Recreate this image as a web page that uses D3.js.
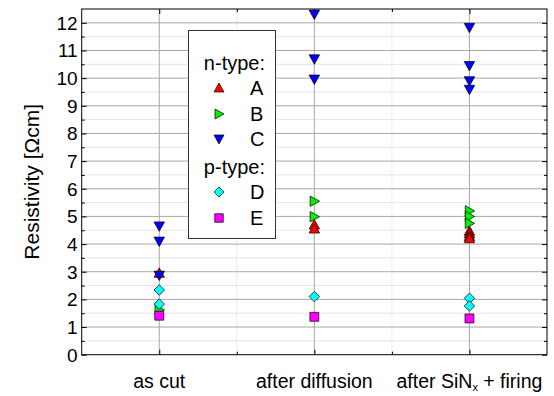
<!DOCTYPE html>
<html>
<head>
<meta charset="utf-8">
<script src="https://cdn.jsdelivr.net/npm/d3@7"></script>
<style>
  body { margin: 0; background: #fff; }
  svg text { font-family: "Liberation Sans", Arial, sans-serif; fill: #000; }
</style>
</head>
<body>
<div id="chart"></div>
<script>
"use strict";

// stages on the x axis
const categories = ["as cut", "after diffusion", "after SiNx + firing"];

// resistivity values per sample, one list per stage
const sampleA = [[2.95], [4.70, 4.55], [4.47, 4.38, 4.28, 4.20]];
const sampleB = [[1.62], [5.55, 4.99], [5.20, 5.00, 4.75]];
const sampleC = [[4.65, 4.10, 2.87], [12.31, 10.69, 9.96], [11.83, 10.45, 9.90, 9.59]];
const sampleD = [[2.34, 1.83], [2.10], [2.04, 1.76]];
const sampleE = [[1.41], [1.37], [1.31]];

const yTicks = [0, 1, 2, 3, 4, 5, 6, 7, 8, 9, 10, 11, 12];

const series = [
  { name: "A", shape: "up", color: "#ff0000", data: sampleA },
  { name: "B", shape: "right", color: "#00f000", data: sampleB },
  { name: "C", shape: "down", color: "#0000ff", data: sampleC },
  { name: "D", shape: "diamond", color: "#00ffff", data: sampleD },
  { name: "E", shape: "square", color: "#ff00ff", data: sampleE }
];

const W = 554, H = 396;
const margin = { left: 81.7, right: 7, top: 9, bottom: 41.3 };

const svg = d3.select("#chart").append("svg")
  .attr("width", W).attr("height", H);

const x = d3.scaleLinear().domain([0.5, 3.5]).range([margin.left, W - margin.right]);
const y = d3.scaleLinear().domain([0, 12.5]).range([H - margin.bottom, margin.top]);

const x0 = x.range()[0], x1 = x.range()[1];
const y0 = y.range()[0], y1 = y.range()[1];

// minor grid (dotted)
const grid = svg.append("g");
d3.range(0.5, 12.5, 1).forEach(v => {
  grid.append("line")
    .attr("x1", x0).attr("x2", x1).attr("y1", y(v)).attr("y2", y(v))
    .attr("stroke", "#c8c8c8").attr("stroke-width", 1).attr("stroke-dasharray", "1,1");
});
[1.5, 2.5].forEach(v => {
  grid.append("line")
    .attr("x1", x(v)).attr("x2", x(v)).attr("y1", y0).attr("y2", y1)
    .attr("stroke", "#d8d8d8").attr("stroke-width", 1).attr("stroke-dasharray", "1,1");
});
// major grid
yTicks.slice(1).forEach(v => {
  grid.append("line")
    .attr("x1", x0).attr("x2", x1).attr("y1", y(v)).attr("y2", y(v))
    .attr("stroke", "#a8a8a8").attr("stroke-width", 1);
});
categories.forEach((c, i) => {
  grid.append("line")
    .attr("x1", x(i + 1)).attr("x2", x(i + 1)).attr("y1", y0).attr("y2", y1)
    .attr("stroke", "#a8a8a8").attr("stroke-width", 1);
});

// axes, ticks pointing inward on all four sides
const yMinor = d3.range(0.5, 12.5, 1);
const xTickVals = [1, 2, 3];
const xMinor = [1.5, 2.5];

svg.append("g").attr("transform", `translate(${x0},0)`)
  .call(d3.axisRight(y).tickValues(yTicks).tickSize(5).tickFormat(""));
svg.append("g").attr("transform", `translate(${x0},0)`)
  .call(d3.axisRight(y).tickValues(yMinor).tickSize(3).tickFormat(""));
svg.append("g").attr("transform", `translate(${x1},0)`)
  .call(d3.axisLeft(y).tickValues(yTicks).tickSize(5).tickFormat(""));
svg.append("g").attr("transform", `translate(${x1},0)`)
  .call(d3.axisLeft(y).tickValues(yMinor).tickSize(3).tickFormat(""));
svg.append("g").attr("transform", `translate(0,${y0})`)
  .call(d3.axisTop(x).tickValues(xTickVals).tickSize(5).tickFormat(""));
svg.append("g").attr("transform", `translate(0,${y0})`)
  .call(d3.axisTop(x).tickValues(xMinor).tickSize(3).tickFormat(""));
svg.append("g").attr("transform", `translate(0,${y1})`)
  .call(d3.axisBottom(x).tickValues(xTickVals).tickSize(5).tickFormat(""));
svg.append("g").attr("transform", `translate(0,${y1})`)
  .call(d3.axisBottom(x).tickValues(xMinor).tickSize(3).tickFormat(""));
svg.selectAll(".domain").remove();
svg.selectAll(".tick line").attr("stroke", "#000").attr("stroke-width", 1);

// tick labels
svg.append("g").selectAll("text").data(yTicks).join("text")
  .attr("x", x0 - 4).attr("y", d => y(d)).attr("dy", "0.36em")
  .attr("text-anchor", "end").style("font-size", "19px")
  .text(d => d);

const xl = svg.append("g").selectAll("text").data(categories).join("text")
  .attr("x", (d, i) => x(i + 1)).attr("y", y0 + 33)
  .attr("text-anchor", "middle").style("font-size", "19.5px");
xl.each(function (d) {
  const t = d3.select(this);
  if (d.indexOf("SiNx") >= 0) {
    t.append("tspan").text("after SiN");
    t.append("tspan").text("x").attr("dy", 3.5).style("font-size", "11px");
    t.append("tspan").text(" + firing").attr("dy", -3.5);
  } else {
    t.text(d);
  }
});

svg.append("text")
  .attr("transform", `translate(39,${(y0 + y1) / 2}) rotate(-90)`)
  .attr("text-anchor", "middle").style("font-size", "21px")
  .text("Resistivity [Ωcm]");

// frame
svg.append("rect")
  .attr("x", x0).attr("y", y1).attr("width", x1 - x0).attr("height", y0 - y1)
  .attr("fill", "none").attr("stroke", "#000").attr("stroke-width", 1);

// marker shapes
function markerPath(shape, s) {
  const h = s / 2;
  switch (shape) {
    case "up": return `M0,${-h}L${h},${h * 0.8}L${-h},${h * 0.8}Z`;
    case "down": return `M0,${h}L${h},${-h * 0.8}L${-h},${-h * 0.8}Z`;
    case "right": return `M${h},0L${-h * 0.8},${h}L${-h * 0.8},${-h}Z`;
    case "diamond": return `M0,${-h}L${h},0L0,${h}L${-h},0Z`;
    default: return `M${-h * 0.85},${-h * 0.85}H${h * 0.85}V${h * 0.85}H${-h * 0.85}Z`;
  }
}

const pts = svg.append("g");
series.forEach(s => {
  s.data.forEach((vals, i) => {
    vals.forEach(v => {
      pts.append("path")
        .attr("d", markerPath(s.shape, 10.5))
        .attr("transform", `translate(${x(i + 1)},${y(v)})`)
        .attr("fill", s.color).attr("stroke", "#000").attr("stroke-width", 0.7);
    });
  });
});

// legend
const lg = svg.append("g");
lg.append("rect").attr("x", 188.5).attr("y", 30.5).attr("width", 87).attr("height", 208)
  .attr("fill", "#fff").attr("stroke", "#333").attr("stroke-width", 1);
const rowY = [63, 88, 114, 139, 167, 192, 218];
lg.append("text").attr("x", 265).attr("y", rowY[0]).attr("dy", "0.36em")
  .attr("text-anchor", "end").style("font-size", "20px").text("n-type:");
lg.append("text").attr("x", 265).attr("y", rowY[4]).attr("dy", "0.36em")
  .attr("text-anchor", "end").style("font-size", "20px").text("p-type:");
const legRows = [rowY[1], rowY[2], rowY[3], rowY[5], rowY[6]];
series.forEach((s, i) => {
  lg.append("path").attr("d", markerPath(s.shape, 10))
    .attr("transform", `translate(219,${legRows[i]})`)
    .attr("fill", s.color).attr("stroke", "#000").attr("stroke-width", 0.7);
  lg.append("text").attr("x", 250).attr("y", legRows[i]).attr("dy", "0.36em")
    .style("font-size", "20px").text(s.name);
});
</script>
</body>
</html>
